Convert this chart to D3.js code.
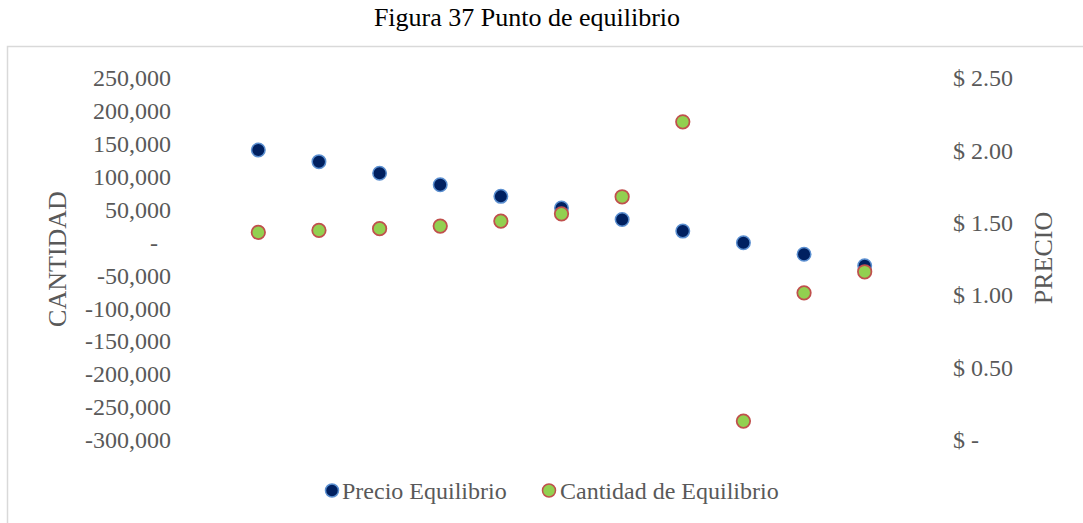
<!DOCTYPE html>
<html>
<head>
<meta charset="utf-8">
<script src="https://cdn.jsdelivr.net/npm/d3@7"></script>
<style>
  body { margin: 0; background: #fff; }
  svg { display: block; font-family: "Liberation Serif", "Times New Roman", serif; }
  .axis text { fill: #595959; font-size: 24px; font-family: "Liberation Serif", "Times New Roman", serif; }
</style>
</head>
<body>
<svg id="svg"></svg>
<script>

const width = 1083;
const height = 523;

// data
const periods = ["1", "2", "3", "4", "5", "6", "7", "8", "9", "10", "11"];
const precio = [2.00, 1.92, 1.84, 1.76, 1.68, 1.60, 1.52, 1.44, 1.36, 1.28, 1.20];
const cantidad = [15000, 18000, 20500, 24500, 32000, 43000, 69000, 183000, -272000, -77000, -45000];
const cantidadTicks = [250000, 200000, 150000, 100000, 50000, 0, -50000, -100000, -150000, -200000, -250000, -300000];
const precioTicks = [0, 0.5, 1.0, 1.5, 2.0, 2.5];
const seriesNames = ["Precio Equilibrio", "Cantidad de Equilibrio"];

const fmt = d3.formatLocale({ decimal: ".", thousands: ",", grouping: [3], currency: ["$", ""], minus: "-" }).format(",");

const svg = d3.select("#svg")
	.attr("width", width)
	.attr("height", height);

// chart frame
svg.append("rect")
	.attr("x", 7.5)
	.attr("y", 46.5)
	.attr("width", 1100)
	.attr("height", 600)
	.attr("fill", "none")
	.attr("stroke", "#d9d9d9")
	.attr("stroke-width", 1.5);

svg.append("text")
	.attr("x", 527)
	.attr("y", 26)
	.attr("text-anchor", "middle")
	.attr("font-size", 26)
	.attr("fill", "#000")
	.text("Figura 37 Punto de equilibrio");

const x = d3.scalePoint()
	.domain(periods)
	.range([228, 895])
	.padding(0.5);

const yLeft = d3.scaleLinear()
	.domain([-300000, 250000])
	.range([439.5, 77.7]);

const yRight = d3.scaleLinear()
	.domain([0, 2.5])
	.range([439.5, 77.7]);

const leftAxis = svg.append("g")
	.attr("transform", "translate(171,0)")
	.call(d3.axisLeft(yLeft)
		.tickValues(cantidadTicks)
		.tickSize(0)
		.tickPadding(0)
		.tickFormat(d => d === 0 ? "-" : fmt(d)))
	.attr("class", "axis");
leftAxis.select(".domain").remove();
leftAxis.selectAll(".tick text")
	.attr("dy", "0.34em")
	.filter(d => d === 0)
	.attr("x", -13);

const rightAxis = svg.append("g")
	.attr("transform", "translate(953,0)")
	.call(d3.axisRight(yRight)
		.tickValues(precioTicks)
		.tickSize(0)
		.tickPadding(0)
		.tickFormat(d => d === 0 ? "$ -" : "$ " + d.toFixed(2)))
	.attr("class", "axis");
rightAxis.select(".domain").remove();
rightAxis.selectAll(".tick text").attr("dy", "0.34em");

// axis titles
svg.append("text")
	.attr("transform", "translate(66,259) rotate(-90)")
	.attr("text-anchor", "middle")
	.attr("font-size", 26)
	.attr("fill", "#595959")
	.text("CANTIDAD");

svg.append("text")
	.attr("transform", "translate(1052,258) rotate(-90)")
	.attr("text-anchor", "middle")
	.attr("font-size", 26)
	.attr("fill", "#595959")
	.text("PRECIO");

const plot = svg.append("g");

plot.selectAll("circle.precio")
	.data(precio)
	.enter().append("circle")
	.attr("class", "precio")
	.attr("cx", (d, i) => x(periods[i]))
	.attr("cy", d => yRight(d))
	.attr("r", 6.75)
	.attr("fill", "#002060")
	.attr("stroke", "#5b8fd0")
	.attr("stroke-width", 1.5);

plot.selectAll("circle.cantidad")
	.data(cantidad)
	.enter().append("circle")
	.attr("class", "cantidad")
	.attr("cx", (d, i) => x(periods[i]))
	.attr("cy", d => yLeft(d))
	.attr("r", 6.75)
	.attr("fill", "#92d050")
	.attr("stroke", "#c0504d")
	.attr("stroke-width", 1.75);

// legend
const legendItems = [
	{ name: seriesNames[0], fill: "#002060", stroke: "#5b8fd0", cx: 332, tx: 342 },
	{ name: seriesNames[1], fill: "#92d050", stroke: "#c0504d", cx: 549, tx: 560 }
];

const legend = svg.append("g");
legend.selectAll("circle")
	.data(legendItems)
	.enter().append("circle")
	.attr("cx", d => d.cx)
	.attr("cy", 490.5)
	.attr("r", 6.5)
	.attr("fill", d => d.fill)
	.attr("stroke", d => d.stroke)
	.attr("stroke-width", 1.5);
legend.selectAll("text")
	.data(legendItems)
	.enter().append("text")
	.attr("x", d => d.tx)
	.attr("y", 498.5)
	.attr("font-size", 24)
	.attr("fill", "#595959")
	.text(d => d.name);

</script>
</body>
</html>
